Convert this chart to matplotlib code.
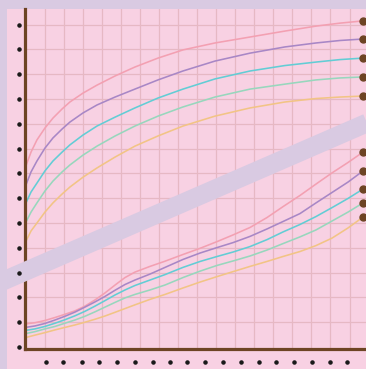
import matplotlib
matplotlib.use("Agg")
import matplotlib.pyplot as plt
from matplotlib.patches import Rectangle
import matplotlib.transforms as mtransforms

# colours
LAVENDER = "#d9cae2"
PANEL = "#f8d1e3"
GRID = "#e6b8c4"
BROWN = "#6d4424"
COLORS = ["#f3a0b2", "#a887c6", "#62cdd5", "#97d7bd", "#f2c485"]

# upper group of curves
upper_x = [0, 0.29, 0.60, 1.02, 1.44, 1.92, 2.33, 3.02, 3.75, 4.70, 5.74, 6.95,
           8.26, 9.94, 11.78, 13.61, 15.24, 16.50, 17.71]
upper_pink = [7.26, 7.86, 8.35, 8.83, 9.23, 9.60, 9.88, 10.24, 10.56, 10.93, 11.29, 11.65,
              11.98, 12.26, 12.50, 12.74, 12.94, 13.06, 13.15]
upper_purple = [6.49, 7.06, 7.50, 8.02, 8.43, 8.79, 9.07, 9.44, 9.76, 10.08, 10.40, 10.77,
                11.13, 11.53, 11.85, 12.10, 12.26, 12.36, 12.42]
upper_cyan = [5.77, 6.25, 6.61, 7.10, 7.50, 7.86, 8.15, 8.55, 8.91, 9.27, 9.64, 10.04,
              10.40, 10.81, 11.13, 11.35, 11.49, 11.59, 11.65]
upper_green = [5.00, 5.44, 5.81, 6.29, 6.69, 7.06, 7.34, 7.74, 8.10, 8.51, 8.91, 9.31,
               9.68, 10.08, 10.40, 10.60, 10.77, 10.85, 10.89]
upper_orange = [4.23, 4.68, 5.00, 5.44, 5.81, 6.17, 6.45, 6.85, 7.22, 7.66, 8.10, 8.51,
                8.91, 9.31, 9.64, 9.88, 10.02, 10.08, 10.12]

# lower group of curves
lower_x = [0, 0.50, 1.02, 1.55, 2.07, 2.60, 3.12, 3.65, 4.17, 4.70, 5.22, 5.74, 6.53,
           7.32, 8.26, 9.16, 10.05, 10.89, 11.78, 12.67, 13.51, 14.40, 15.24, 16.08, 16.92, 17.71]
lower_pink = [0.93, 0.98, 1.07, 1.19, 1.32, 1.46, 1.65, 1.90, 2.18, 2.50, 2.80, 3.02, 3.25,
              3.46, 3.73, 3.98, 4.25, 4.52, 4.82, 5.22, 5.66, 6.11, 6.57, 7.02, 7.44, 7.86]
lower_purple = [0.79, 0.85, 0.95, 1.09, 1.24, 1.41, 1.61, 1.82, 2.04, 2.29, 2.52, 2.70, 2.94,
                3.21, 3.53, 3.79, 4.01, 4.21, 4.46, 4.76, 5.06, 5.38, 5.81, 6.23, 6.65, 7.10]
lower_cyan = [0.67, 0.73, 0.83, 0.96, 1.10, 1.26, 1.44, 1.65, 1.87, 2.10, 2.30, 2.48, 2.70,
              2.92, 3.21, 3.45, 3.65, 3.83, 4.05, 4.33, 4.64, 4.94, 5.26, 5.62, 5.99, 6.37]
lower_green = [0.54, 0.62, 0.73, 0.83, 0.96, 1.09, 1.24, 1.42, 1.61, 1.80, 1.98, 2.12, 2.30,
               2.50, 2.80, 3.06, 3.29, 3.47, 3.67, 3.91, 4.17, 4.44, 4.72, 5.08, 5.44, 5.81]
lower_orange = [0.38, 0.48, 0.58, 0.69, 0.79, 0.89, 1.00, 1.12, 1.25, 1.40, 1.55, 1.70, 1.92,
                2.12, 2.38, 2.62, 2.84, 3.04, 3.25, 3.45, 3.65, 3.85, 4.09, 4.39, 4.80, 5.24]

y_ticks = list(range(14))
x_ticks = [1.08, 1.97, 2.97, 3.86, 4.80, 5.75, 6.69, 7.58, 8.47, 9.42,
           10.36, 11.31, 12.25, 13.14, 14.09, 15.03, 15.98, 16.87]
grid_x = list(range(1, 18))
grid_y = list(range(1, 14))

# decorative diagonal band
band_x = [-2.5, 20.0]
band_y = [2.22, 9.73]

fig = plt.figure(figsize=(3.66, 3.69), dpi=100)
fig.patch.set_facecolor(LAVENDER)
panel = Rectangle((7.5 / 366, 0), 1, (369 - 9) / 369, transform=fig.transFigure,
                  facecolor=PANEL, edgecolor="none", zorder=-10)
fig.add_artist(panel)

ax = fig.add_axes([25.5 / 366, 20.5 / 369, 346.5 / 366, 339.5 / 369])
ax.set_zorder(1)
ax.patch.set_alpha(0)
ax.set_xlim(0, 18.18)
ax.set_ylim(-0.06, 13.63)

for gx in grid_x:
    ax.axvline(gx, color=GRID, lw=0.9, zorder=1)
for gy in grid_y:
    ax.axhline(gy, color=GRID, lw=0.9, zorder=1)

for ys, c in zip([upper_pink, upper_purple, upper_cyan, upper_green, upper_orange], COLORS):
    ax.plot(upper_x, ys, color=c, lw=1.15, zorder=2, solid_joinstyle="round")
    ax.plot(upper_x[-1], ys[-1], "o", color=BROWN, ms=5, clip_on=False, zorder=5)

for ys, c in zip([lower_pink, lower_purple, lower_cyan, lower_green, lower_orange], COLORS):
    ax.plot(lower_x, ys, color=c, lw=1.15, zorder=2, solid_joinstyle="round")
    ax.plot(lower_x[-1], ys[-1], "o", color=BROWN, ms=5, clip_on=False, zorder=5)

ax.plot(band_x, band_y, color=LAVENDER, lw=13.5, solid_capstyle="butt",
        clip_on=False, zorder=3)

for s in ["top", "right"]:
    ax.spines[s].set_visible(False)
for s in ["left", "bottom"]:
    ax.spines[s].set_color(BROWN)
    ax.spines[s].set_linewidth(2.3)
    ax.spines[s].set_zorder(2.5)
ax.set_xticks([])
ax.set_yticks([])

# tick dots
ytr = mtransforms.offset_copy(ax.get_yaxis_transform(), fig=fig, x=-6.5, y=0, units="dots")
ax.scatter([0] * len(y_ticks), y_ticks, s=5, color="#1a1a1a", transform=ytr,
           clip_on=False, zorder=6)
xtr = mtransforms.offset_copy(ax.get_xaxis_transform(), fig=fig, x=0, y=-13.5, units="dots")
ax.scatter(x_ticks, [0] * len(x_ticks), s=5, color="#1a1a1a", transform=xtr,
           clip_on=False, zorder=6)

fig.savefig("out.png", dpi=100, facecolor=fig.get_facecolor())
